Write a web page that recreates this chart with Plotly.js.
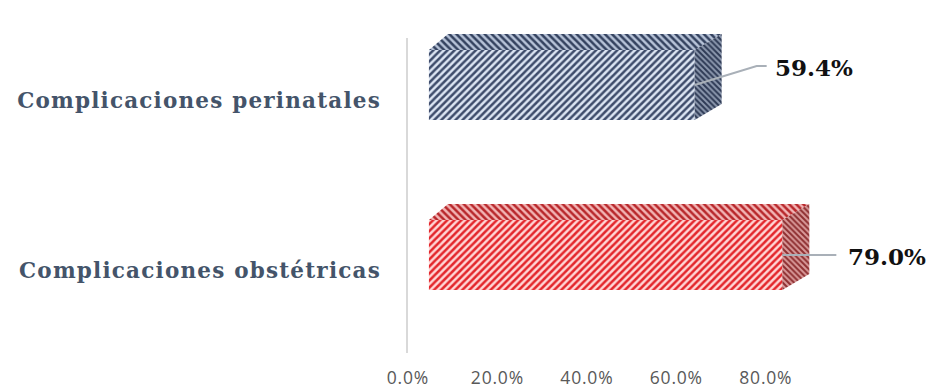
<!DOCTYPE html>
<html>
<head>
<meta charset="utf-8">
<script src="https://cdn.plot.ly/plotly-3.0.1.min.js"></script>
<style>
  html, body { margin: 0; padding: 0; background: #ffffff; }
  #chart { width: 930px; height: 387px; }
  #chart .ytick text { letter-spacing: 1.2px; }
  #chart .xtick text { letter-spacing: 0.8px; }
</style>
</head>
<body>
<div id="chart"></div>
<script>
// Categories (bottom to top) and their percentages
const categories = ['Complicaciones obstétricas', 'Complicaciones perinatales'];
const values = [79.0, 59.4];
const tickValues = [0, 20, 40, 60, 80];
const tickLabels = ['0.0%', '20.0%', '40.0%', '60.0%', '80.0%'];

// Colours for each bar: front face, top face, side face
const palettes = [
  { fg: '#E3262B', bg: '#FFD6D6', topFg: '#B8272B', topBg: '#F2B5B5', sideFg: '#8E2F31', sideBg: '#D99A9A' },
  { fg: '#3E4C6B', bg: '#DCE5F3', topFg: '#34425F', topBg: '#B7C3D8', sideFg: '#2E3A55', sideBg: '#8C98AE' }
];

// Plot geometry
const W = 930, H = 387;
const M = { l: 407, r: 30, t: 20, b: 34 };
const axisTop = 38;            // pixel row where the category axis line starts
const plotW = W - M.l - M.r, plotH = H - M.t - M.b;
const xRange = [-4.9, 105.3];
const yRange = [-0.488, 1.471];
const xPx = plotW / (xRange[1] - xRange[0]);
const yPx = plotH / (yRange[1] - yRange[0]);

// Bar thickness and placement along the category axis (axis units)
const barWidth = 70 / yPx;
const barOffset = -20 / yPx;
// 3-D depth of the boxes, in pixels
const depthLeft = 19, depthRight = 27, depthUp = 16;

const positions = categories.map((c, i) => i);

const traces = [];

// Front faces: one bar trace per category
values.forEach((v, i) => {
  const p = palettes[i];
  traces.push({
    type: 'bar',
    orientation: 'h',
    x: [v],
    y: [positions[i]],
    width: barWidth,
    offset: barOffset,
    marker: {
      color: p.bg,
      line: { width: 0 },
      pattern: {
        shape: '/',
        fillmode: 'overlay',
        fgcolor: p.fg,
        fgopacity: 1,
        size: 5,
        solidity: 0.5
      }
    },
    hoverinfo: 'skip',
    showlegend: false
  });
});

// Top and side faces built from each bar's value
values.forEach((v, i) => {
  const p = palettes[i];
  const y0 = positions[i] + barOffset;
  const y1 = y0 + barWidth;
  const dyU = depthUp / yPx;
  const dxL = depthLeft / xPx, dxR = depthRight / xPx;

  traces.push({
    type: 'scatter', mode: 'lines',
    x: [0, dxL, v + dxR, v, 0],
    y: [y1, y1 + dyU, y1 + dyU, y1, y1],
    fill: 'toself',
    fillcolor: p.topBg,
    fillpattern: { shape: '\\', fgcolor: p.topFg, bgcolor: p.topBg, size: 5, solidity: 0.5 },
    line: { width: 0 },
    hoverinfo: 'skip', showlegend: false
  });

  traces.push({
    type: 'scatter', mode: 'lines',
    x: [v, v + dxR, v + dxR, v, v],
    y: [y1, y1 + dyU, y0 + dyU, y0, y1],
    fill: 'toself',
    fillcolor: p.sideBg,
    fillpattern: { shape: '\\', fgcolor: p.sideFg, bgcolor: p.sideBg, size: 4, solidity: 0.5 },
    line: { width: 0 },
    hoverinfo: 'skip', showlegend: false
  });
});

// Value labels with leader lines
const labelStyle = [
  { path: 'M 0 0 L 54 0', dx: 64, dy: -1 },
  { path: 'M 0 0 L 62 19 L 72 19', dx: 78, dy: 18 }
];

const annotations = values.map((v, i) => ({
  x: v,
  y: positions[i] + barOffset + barWidth / 2,
  xref: 'x', yref: 'y',
  text: v.toFixed(1) + '%',
  showarrow: false,
  xanchor: 'left', yanchor: 'middle',
  xshift: labelStyle[i].dx,
  yshift: labelStyle[i].dy,
  font: { family: 'DejaVu Serif', size: 23, color: '#111111', weight: 'bold' }
}));

const shapes = values.map((v, i) => ({
  type: 'path',
  xref: 'x', yref: 'y',
  xsizemode: 'pixel', ysizemode: 'pixel',
  xanchor: v,
  yanchor: positions[i] + barOffset + barWidth / 2,
  path: labelStyle[i].path,
  line: { color: '#A9B0B8', width: 2 },
  layer: 'above'
}));

// Category axis line
shapes.push({
  type: 'line',
  xref: 'paper', yref: 'paper',
  x0: 0, x1: 0,
  y0: 0, y1: (H - M.b - axisTop) / plotH,
  line: { color: '#D9D9D9', width: 2 },
  layer: 'below'
});

const layout = {
  width: W, height: H,
  margin: M,
  paper_bgcolor: '#ffffff',
  plot_bgcolor: '#ffffff',
  showlegend: false,
  barmode: 'overlay',
  xaxis: {
    range: xRange,
    tickvals: tickValues,
    ticktext: tickLabels,
    showgrid: false, zeroline: false, showline: false,
    ticks: '',
    ticklabelshift: -21,
    ticklabelstandoff: 12,
    tickfont: { family: 'Open Sans', size: 17.5, color: '#595959' },
    fixedrange: true
  },
  yaxis: {
    range: yRange,
    tickvals: positions,
    ticktext: categories,
    showgrid: false, zeroline: false, showline: false,
    ticks: '',
    ticklabelstandoff: 25,
    tickfont: { family: 'DejaVu Serif', size: 21.5, color: '#44546A', weight: 'bold' },
    fixedrange: true
  },
  annotations: annotations,
  shapes: shapes
};

Plotly.newPlot('chart', traces, layout, { displayModeBar: false, staticPlot: true });
</script>
</body>
</html>
